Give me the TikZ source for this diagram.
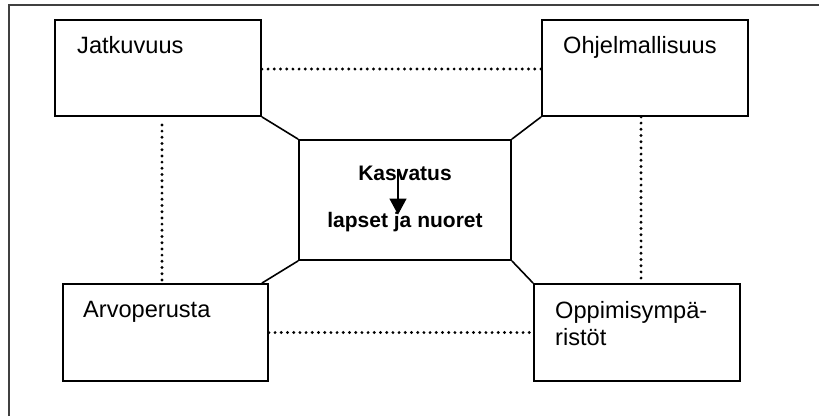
\documentclass[tikz,border=0pt]{standalone}
\usepackage{fontspec}
\setmainfont{Liberation Sans}
\usetikzlibrary{arrows.meta,calc}
\begin{document}
\begin{tikzpicture}[x=1pt,y=-1pt,
  box/.style={draw,line width=1.8pt,rectangle,inner sep=0pt,minimum width=#1},
  lbl/.style={anchor=base west,inner sep=0pt,font=\fontsize{23.6}{27}\selectfont},
  bld/.style={anchor=base,inner sep=0pt,font=\fontsize{21}{25}\selectfont\bfseries},
  link/.style={line width=1.6pt},
  dotline/.style={line width=3.2pt,line cap=round,dash pattern=on 0pt off 6.2pt},
  frame/.style={line width=2pt,draw=black!75}]
\useasboundingbox (0,0) rectangle (819,416);
\draw[frame] (9,416) -- (9,5) -- (819,5);
\node[box=206pt,minimum height=96pt] (J) at (158,68) {};
\node[box=206pt,minimum height=96pt] (O) at (645,68) {};
\node[box=212pt,minimum height=120pt] (C) at (405,200) {};
\node[box=205pt,minimum height=97pt] (A) at (165.5,332.5) {};
\node[box=206pt,minimum height=97pt] (P) at (637,332.5) {};
\node[lbl] (tJ) at (77,53) {Jatkuvuus};
\node[lbl] (tO) at (563,53) {Ohjelmallisuus};
\node[lbl] (tA) at (83,317) {Arvoperusta};
\node[lbl,align=left] (tP) at (555,345) {Oppimisympä-\\ristöt};
\node[bld] (K) at (405,180) {Kasvatus};
\node[bld] (L) at (405,227) {lapset ja nuoret};
\draw[line width=1.3pt,-{Triangle[length=16pt,width=17pt]}] ([xshift=-7pt,yshift=10pt]K.south) -- ([xshift=-7pt,yshift=-3pt]L.north);
\draw[link] (J.south east) -- (C.north west);
\draw[link] (O.south west) -- (C.north east);
\draw[link] (C.south west) -- ([xshift=-7pt]A.north east);
\draw[link] (C.south east) -- (P.north west);
\draw[dotline] ([yshift=-1pt]J.east) -- ([yshift=-1pt]O.west);
\draw[dotline] ([xshift=4pt,yshift=-8pt]J.south) -- ([xshift=4pt]J.south |- A.north);
\draw[dotline] ([xshift=-4pt]O.south) -- ([xshift=-4pt]O.south |- P.north);
\draw[dotline] (A.east) -- (P.west);
\end{tikzpicture}
\end{document}
